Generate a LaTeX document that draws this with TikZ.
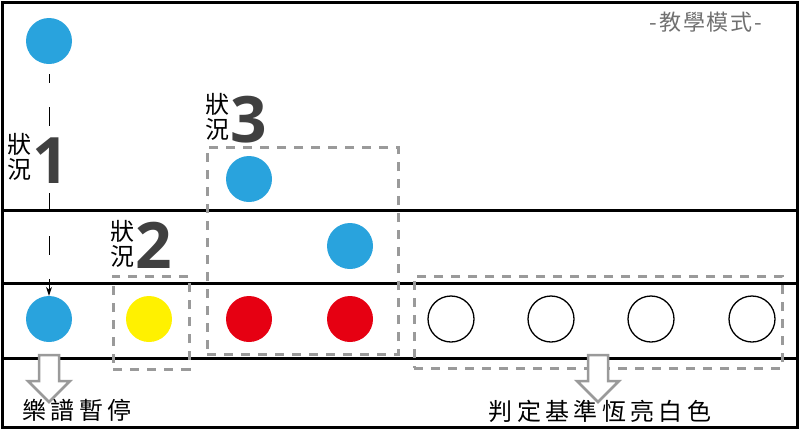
\documentclass[tikz,border=0pt]{standalone}
\usepackage{fontspec}
\newfontfamily\cjk{Noto Sans CJK TC}
\newfontfamily\cjkspaced[LetterSpace=18]{Noto Sans CJK TC}
\newfontfamily\titlefont[LetterSpace=9]{Noto Sans CJK TC}
\newfontfamily\digitfont{Open Sans}
\usetikzlibrary{arrows.meta}
\definecolor{dotblue}{HTML}{29A3DD}
\definecolor{dotred}{HTML}{E60012}
\definecolor{dotyellow}{HTML}{FFF100}
\definecolor{boxgray}{HTML}{9A9A9A}
\definecolor{digitgray}{HTML}{404040}
\definecolor{titlegray}{HTML}{707070}
\tikzset{
  dot/.style={circle, minimum size=46pt, inner sep=0pt, draw=none},
  hollowdot/.style={circle, minimum size=46pt, inner sep=0pt, draw=black, line width=1.3pt, fill=white},
  frameline/.style={line width=3pt, black},
  groupbox/.style={draw=boxgray, line width=3pt, dash pattern=on 9pt off 8pt},
  stacklabel/.style={align=center, inner sep=0pt, font=\cjk\fontsize{24}{25}\selectfont},
  biglabel/.style={inner sep=0pt, text=digitgray, font=\digitfont\bfseries\fontsize{64}{64}\selectfont},
  bottomtext/.style={inner sep=0pt, font=\cjkspaced\fontsize{24}{26}\selectfont},
  hollowarrow/.style={draw=boxgray, fill=white, line width=2.5pt, line join=miter},
}
\begin{document}
\begin{tikzpicture}[x=1pt, y=-1pt]
\useasboundingbox (0,0) rectangle (800,429);
% frame
\draw[frameline] (2,2) rectangle (797,427);
\draw[frameline] (2,210) -- (797,210);
\draw[frameline] (2,283) -- (797,283);
\draw[frameline] (2,358) -- (797,358);

% group boxes
\node[groupbox, minimum width=76pt, minimum height=93pt, inner sep=0pt] (box2) at (151,322.5) {};
\node[groupbox, minimum width=191pt, minimum height=207pt, inner sep=0pt] (box3) at (302.5,250.5) {};
\node[groupbox, minimum width=368pt, minimum height=92pt, inner sep=0pt] (boxw) at (598,322) {};

% dots
\node[dot, fill=dotblue] (b0) at (49,41) {};
\node[dot, fill=dotblue] (b1) at (49,319) {};
\node[dot, fill=dotyellow] (y1) at (149,319) {};
\node[dot, fill=dotblue] (b2) at (249,179) {};
\node[dot, fill=dotblue] (b3) at (350,246) {};
\node[dot, fill=dotred] (r1) at (249,319) {};
\node[dot, fill=dotred] (r2) at (350,319) {};
\node[hollowdot] (w1) at (451,319) {};
\node[hollowdot] (w2) at (551,319) {};
\node[hollowdot] (w3) at (651,319) {};
\node[hollowdot] (w4) at (752,319) {};

% dashed connector
\coordinate (c0) at ([shift={(0,10)}]b0.south);
\draw[line width=0.9pt, dash pattern=on 19pt off 24pt, dash phase=10pt, -{Stealth[length=9pt,width=6pt]}] (c0) -- (b1.north);

% situation labels
\node[stacklabel] (s1) at (19,157) {狀\\況};
\node[biglabel, anchor=base west] (n1) at (32,183) {1};
\node[stacklabel] (s3) at (217,117) {狀\\況};
\node[biglabel, anchor=base west] (n3) at (230,142) {3};
\node[stacklabel] (s2) at (122,244) {狀\\況};
\node[biglabel, anchor=base west] (n2) at (135,268) {2};

% hollow arrows
\coordinate (a1) at (49,355);
\draw[hollowarrow] (a1) ++(-10,0) -- ++(0,26) -- ++(-11,0) -- ++(21,21) -- ++(21,-21) -- ++(-11,0) -- ++(0,-26) -- cycle;
\coordinate (a2) at (598,355);
\draw[hollowarrow] (a2) ++(-10,0) -- ++(0,26) -- ++(-11,0) -- ++(21,21) -- ++(21,-21) -- ++(-11,0) -- ++(0,-26) -- cycle;

% bottom texts
\node[bottomtext] (t1) at (77,410) {樂譜暫停};
\node[bottomtext] (t2) at (600,411) {判定基準恆亮白色};

% title
\node[inner sep=0pt, text=titlegray, font=\titlefont\fontsize{22}{24}\selectfont] (title) at (706,22) {-教學模式-};
\end{tikzpicture}
\end{document}
